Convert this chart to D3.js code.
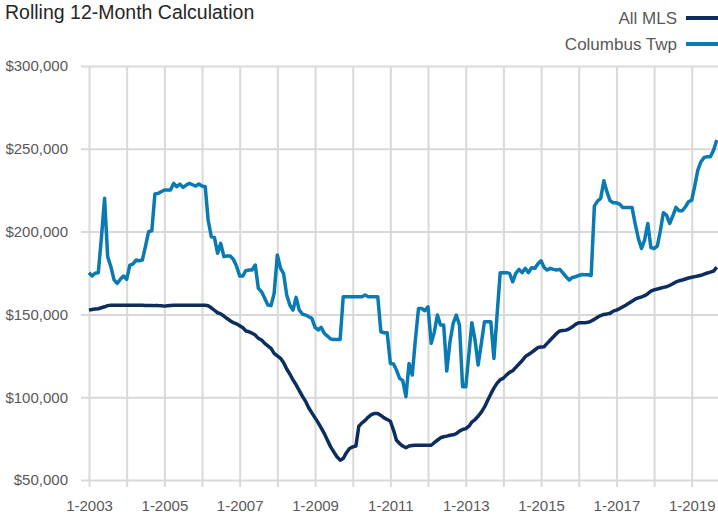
<!DOCTYPE html>
<html>
<head>
<meta charset="utf-8">
<script src="https://cdn.jsdelivr.net/npm/d3@7"></script>
<style>
  body { margin: 0; background: #fff; }
  svg { display: block; font-family: "Liberation Sans", Arial, sans-serif; }
</style>
</head>
<body>
<svg id="chart" width="718" height="515"></svg>
<script>
// rolling 12-month price, $ thousands, one value per month from 1-2003 to 9-2019
var firstMonth = new Date(2003, 0, 1);

var allMls = [
  152.6, 153.0, 153.2, 153.4, 154.0, 154.6, 155.3, 155.6, 155.6, 155.6, 155.6, 155.6,
  155.6, 155.6, 155.5, 155.5, 155.5, 155.5, 155.4, 155.4, 155.4, 155.3, 155.3, 155.2,
  155.0, 155.2, 155.4, 155.5, 155.5, 155.5, 155.5, 155.5, 155.5, 155.5, 155.5, 155.5,
  155.5, 155.5, 155.2, 154.0, 152.5, 151.0, 150.3, 149.0, 147.5, 146.2, 145.0, 144.3,
  143.2, 142.0, 140.0, 139.5, 138.7, 137.5, 135.5, 134.5, 132.5, 131.0, 129.5, 126.5,
  125.0, 123.5, 121.0, 117.0, 114.0, 110.5, 107.5, 104.0, 100.5, 97.5, 93.5, 90.5,
  87.5, 84.5, 81.5, 78.0, 74.0, 70.0, 67.0, 64.0, 62.0, 63.0, 66.5, 69.0,
  70.0, 70.5, 82.5, 84.5, 86.0, 88.0, 89.5, 90.2, 90.2, 89.0, 87.5, 86.5,
  85.5, 80.0, 74.0, 72.0, 70.5, 69.5, 70.5, 70.8, 71.0, 71.0, 71.0, 71.0,
  71.0, 71.0, 72.5, 74.0, 75.5, 76.1, 76.5, 77.0, 77.3, 78.0, 79.5, 80.5,
  81.0, 82.5, 85.0, 86.5, 88.5, 91.0, 94.0, 98.0, 102.0, 105.5, 108.5, 110.5,
  111.5, 113.5, 115.0, 116.0, 118.0, 120.0, 122.0, 124.5, 125.8, 127.0, 128.5, 130.0,
  130.3, 130.5, 132.5, 134.5, 136.5, 138.5, 140.0, 140.3, 140.5, 141.3, 142.5, 144.0,
  145.0, 145.0, 145.0, 145.2, 146.0, 147.0, 148.3, 149.3, 150.0, 150.3, 150.7, 152.0,
  152.6, 153.5, 154.5, 155.5, 156.8, 158.0, 159.2, 160.0, 160.5, 161.3, 162.5, 164.0,
  164.8, 165.3, 165.8, 166.3, 166.7, 167.5, 168.5, 169.6, 170.3, 170.8, 171.4, 172.0,
  172.4, 172.8, 173.2, 173.6, 174.3, 175.0, 175.5, 176.2, 178.5
];

var columbusTwp = [
  175.2, 173.2, 174.8, 175.2, 196.0, 220.1, 184.9, 178.8, 170.8, 168.7, 171.2, 173.2,
  171.2, 179.8, 180.4, 182.8, 182.4, 182.8, 190.9, 200.0, 200.5, 222.7, 223.1, 224.1,
  225.1, 225.1, 225.1, 229.1, 227.1, 228.7, 226.7, 228.1, 229.1, 228.3, 227.5, 228.7,
  227.5, 227.1, 207.0, 196.9, 196.5, 186.9, 192.9, 184.9, 185.3, 185.3, 183.2, 179.2,
  173.2, 173.2, 176.4, 176.8, 176.8, 179.8, 165.7, 163.7, 159.7, 155.7, 155.3, 162.7,
  185.9, 177.8, 174.8, 161.7, 155.7, 152.6, 160.3, 152.6, 150.2, 149.6, 148.6, 147.6,
  142.2, 140.6, 142.2, 138.5, 136.9, 135.1, 134.9, 134.9, 134.9, 160.7, 160.7, 160.7,
  160.7, 160.7, 160.7, 160.7, 161.7, 160.7, 160.7, 160.7, 160.7, 139.5, 138.9, 138.9,
  120.4, 120.0, 116.4, 111.4, 110.0, 100.3, 120.4, 113.4, 135.0, 153.6, 153.6, 152.2,
  154.6, 132.5, 139.0, 149.6, 143.6, 143.6, 115.8, 133.5, 144.6, 149.6, 143.6, 106.3,
  106.3, 126.5, 145.0, 134.5, 119.4, 132.5, 145.6, 145.6, 145.6, 123.4, 150.0, 175.2,
  175.2, 175.2, 174.8, 169.7, 174.8, 177.2, 175.2, 177.8, 175.2, 178.2, 177.8, 180.4,
  182.4, 178.2, 176.8, 177.8, 177.2, 176.8, 177.2, 175.1, 172.7, 170.7, 172.3, 172.7,
  173.5, 174.1, 173.9, 173.9, 173.5, 215.4, 218.4, 220.0, 230.7, 224.0, 218.6, 217.4,
  217.4, 216.6, 214.6, 214.6, 214.6, 214.6, 204.9, 195.9, 189.8, 194.9, 204.9, 190.4,
  189.8, 191.2, 199.9, 211.4, 210.0, 204.9, 209.4, 214.6, 212.6, 212.6, 215.0, 218.0,
  219.0, 228.1, 237.1, 242.2, 244.8, 245.2, 245.2, 249.2, 255.3
];

var yTicks = [50, 100, 150, 200, 250, 300];
var gridYears = d3.range(2003, 2020);
var labelYears = [2003, 2005, 2007, 2009, 2011, 2013, 2015, 2017, 2019];
var seriesNames = ['All MLS', 'Columbus Twp'];
var seriesColors = ['#0c2d5e', '#0a7ab2'];

var svg = d3.select('#chart');
var width = 718, height = 515;
var left = 81, plotTop = 66, plotBottom = 480;

var months = allMls.map(function (d, i) { return d3.timeMonth.offset(firstMonth, i); });

var x = d3.scaleTime()
    .domain([months[0], months[months.length - 1]])
    .range([89, 716.8]);
var y = d3.scaleLinear()
    .domain([50, 300])
    .range([plotBottom, plotTop]);

// y axis + horizontal grid
svg.append('g')
    .attr('transform', 'translate(' + left + ',0)')
    .call(d3.axisLeft(y)
        .tickValues(yTicks)
        .tickSize(-(width - left))
        .tickPadding(13)
        .tickFormat(function (d) { return '$' + d + ',000'; }))
    .call(function (g) { g.select('.domain').remove(); })
    .call(function (g) {
        g.selectAll('.tick line').attr('stroke', '#d9d9d9').attr('stroke-width', 2);
        g.selectAll('.tick text')
            .attr('fill', '#595959')
            .attr('font-size', 15)
            .attr('font-family', '"Liberation Sans", Arial, sans-serif');
    });

// x axis + vertical grid
svg.append('g')
    .attr('transform', 'translate(0,' + plotBottom + ')')
    .call(d3.axisBottom(x)
        .tickValues(gridYears.map(function (yr) { return new Date(yr, 0, 1); }))
        .tickSize(7)
        .tickPadding(13)
        .tickFormat(function (d) {
            var yr = d.getFullYear();
            return labelYears.indexOf(yr) >= 0 ? '1-' + yr : '';
        }))
    .call(function (g) { g.select('.domain').remove(); })
    .call(function (g) {
        g.selectAll('.tick line')
            .attr('y1', -(plotBottom - plotTop))
            .attr('y2', 7)
            .attr('stroke', '#d9d9d9')
            .attr('stroke-width', 2);
        g.selectAll('.tick text')
            .attr('fill', '#595959')
            .attr('font-size', 15)
            .attr('font-family', '"Liberation Sans", Arial, sans-serif');
    });

var line = d3.line()
    .x(function (d, i) { return x(months[i]); })
    .y(function (d) { return y(d); });

[allMls, columbusTwp].forEach(function (values, k) {
    svg.append('path')
        .datum(values)
        .attr('fill', 'none')
        .attr('stroke', seriesColors[k])
        .attr('stroke-width', 3.5)
        .attr('stroke-linejoin', 'round')
        .attr('d', line);
});

// title
svg.append('text')
    .attr('x', 5)
    .attr('y', 19)
    .attr('font-size', 19.5)
    .attr('fill', '#262626')
    .text('Rolling 12-Month Calculation');

// legend
var legend = svg.append('g');
seriesNames.forEach(function (name, k) {
    var ly = 18 + k * 26;
    legend.append('text')
        .attr('x', 677)
        .attr('y', ly)
        .attr('dy', '0.35em')
        .attr('text-anchor', 'end')
        .attr('font-size', 17)
        .attr('fill', '#595959')
        .text(name);
    legend.append('line')
        .attr('x1', 686).attr('x2', 718)
        .attr('y1', ly).attr('y2', ly)
        .attr('stroke', seriesColors[k])
        .attr('stroke-width', 4);
});
</script>
</body>
</html>
